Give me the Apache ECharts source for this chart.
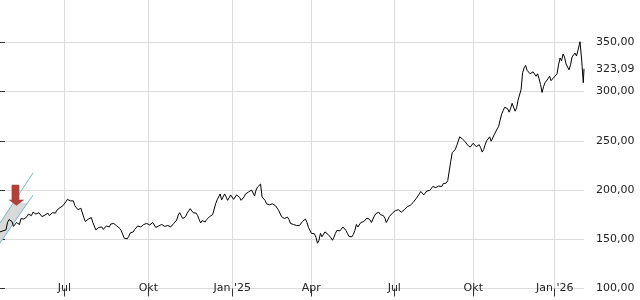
<!DOCTYPE html>
<html><head><meta charset="utf-8">
<script src="https://cdn.jsdelivr.net/npm/echarts@6/dist/echarts.min.js"></script>
<style>html,body{margin:0;padding:0;background:#fff}#c{width:640px;height:300px}</style>
</head><body><div id="c"></div>
<script>
// Closing prices, one sample per step (step index on x axis)
const price = [
157.5,158.5,159.5,170,168,164.5,166,171,170.5,173,
175,177.5,175.5,177,173,174.5,176.5,174.5,177.5,179.5,
182,184,188,191,188,184,180,181.5,172,168.5,
171,167,159.5,162,162.5,161,163,165.5,166,163.5,
161,157,149.5,153,158.5,160,163.5,162.5,165,166,
164.5,167,162,163.5,165,163,164,162.5,166,169.5,
177,171,173,178.5,180,175,174,166.5,168.5,170,
173,175,186,193,190,196,189.5,195,190.5,195,
192.5,191,196,198,200,194,203,206,191.5,186,
185,186,184,179.5,173,171,172.5,166,165,164,
164,168,170.5,162,156,155.5,146,156,154.5,157,
153,149,156,161,160,161.5,156,151.5,155,165,
164,169,170,172,167,173.5,177,175,174,167,
173,176.5,179,180,177.5,180,183,184.5,187.5,191.5,
196,197.5,196,200.5,201.5,204,201,202.5,206.5,207,
211,238,241,249.5,252,250,246,243.5,247.5,244,
246,238.5,246,252,249.5,256,262,271,280.5,284.5,
279,288,280,291.5,302,324,321.5,318,320,315.5,
313,299,309,313,311,314.5,318,334,338,328,
322,335,339,342
];
// prices half a step after each sample above
const priceMid = [
156,160.5,167,171.5,163,167,165,173,169.5,175.5,
174,178.5,174,176,171.5,176.5,174,177,176.5,181.5,
181,185.5,190.5,189,189,182.5,179,182,168,170.5,
172,165,158,164,160,163.5,162.5,167.5,164,164,
158.5,151,150.5,156.5,157.5,162,161.5,164.5,163.5,166.5,
163.5,165.5,161,165.5,164,162,165,163,166.5,174.5,
174,170,176.5,181,177,176.5,170,169,167.5,171.5,
172.5,176,190,196,191,193,192,196.5,192,196.5,
189.5,193,196,198.5,198,200,204,193,189.5,187.5,
183.5,186.5,182.5,177.5,174,169.5,170,167.5,163,166,
165,170,167,160,154,152,149,152.5,157.5,155,
151.5,152,159,158.5,162.5,159,153,152.5,159,162.5,
167,168,171.5,170,168.5,176,177.5,173,171.5,169,
175,176,181,178.5,178,181,182,186.5,189,192.5,
198.5,195,199,199.5,203.5,202.5,204,203.5,205.5,209.5,
229,237.5,245,254,251.5,248.5,247,242.5,248.5,242,
243,241,250,254,251.5,258,264.5,277,284,282.5,
283,286.5,283.5,290,319,326.5,323,316,322,318,
307,305,311,315.5,312,316.5,327,331,335,330,
327,337,336
];
// last few moves at finer step
const priceTail = [[193.66, 350.5], [194.2, 333], [194.76, 309], [195, 323.09]];
const lastPrice = 323.09;

// x axis tick positions (step index) and labels
const xTickPos = [21.47, 49.52, 77.56, 103.94, 131.65, 158.03, 185.21];
const xTickLabels = ['Jul', 'Okt', "Jan '25", 'Apr', 'Jul', 'Okt', "Jan '26"];

// trend channel and signal annotation
const channelUpper = [[0, 166.5], [11.02, 217.3]];
const channelLower = [[0, 146.2], [11.02, 194.9]];
const channelFill = [[0, 166.5], [4.41, 186.8], [9.18, 186.8], [0, 146.2]];
const signalPoint = [5.5, 194.7];

const data = [];
price.forEach((v, i) => {
  data.push([i, v]);
  if (i < priceMid.length) data.push([i + 0.5, priceMid[i]]);
});
priceTail.forEach(p => data.push(p));

const fmt = v => Number(v).toFixed(2).replace('.', ',');
const font = 'DejaVu Sans';

const chart = echarts.init(document.getElementById('c'), null, {renderer: 'canvas'});
chart.setOption({
  animation: false,
  grid: {left: 0, right: 56, top: -7, bottom: 11.5, containLabel: false, outerBoundsMode: 'none'},
  xAxis: {
    type: 'value', min: 0, max: 195,
    axisLine: {show: false},
    axisTick: {show: true, customValues: xTickPos, length: 8, lineStyle: {color: '#333'}},
    axisLabel: {
      customValues: xTickPos, margin: -6, fontFamily: font, fontSize: 11, color: '#222',
      formatter: v => {
        let best = 0;
        xTickPos.forEach((p, k) => { if (Math.abs(p - v) < Math.abs(xTickPos[best] - v)) best = k; });
        return xTickLabels[best];
      }
    },
    splitLine: {show: true, lineStyle: {color: '#dcdcdc', width: 1}}
  },
  yAxis: {
    type: 'value', position: 'right', min: 100, max: 400, interval: 50,
    axisLine: {show: false},
    axisTick: {show: true, length: 5, lineStyle: {color: '#333'}},
    axisLabel: {margin: 12, fontFamily: font, fontSize: 11, color: '#222', formatter: fmt},
    splitLine: {show: true, lineStyle: {color: '#dcdcdc', width: 1}}
  },
  series: [
    {
      type: 'custom', z: 1, silent: true,
      data: [channelFill[0]],
      renderItem: (params, api) => ({
        type: 'polygon',
        shape: {points: channelFill.map(p => api.coord(p))},
        style: {fill: '#d9d9d9'}
      })
    },
    {type: 'line', z: 2, data: channelUpper, showSymbol: false, silent: true,
     lineStyle: {color: '#72b9c9', width: 1}},
    {type: 'line', z: 2, data: channelLower, showSymbol: false, silent: true,
     lineStyle: {color: '#72b9c9', width: 1}},
    {
      type: 'line', z: 3, data: data, showSymbol: false, silent: true,
      lineStyle: {color: '#000', width: 1},
      markLine: {
        silent: true, symbol: 'none',
        lineStyle: {color: 'rgba(0,0,0,0)', width: 0},
        label: {position: 'end', distance: 12, formatter: fmt(lastPrice), fontFamily: font, fontSize: 11, color: '#222'},
        data: [{yAxis: lastPrice}]
      },
      markPoint: {
        silent: true,
        symbol: 'path://M3,0 L10.7,0 L10.7,15 L15.7,15 L7.85,21 L0,15 L3,15 Z',
        symbolSize: [15.7, 21], symbolKeepAspect: false,
        itemStyle: {color: '#b0413a'},
        label: {show: false},
        data: [{coord: signalPoint}]
      }
    }
  ]
});
</script>
</body></html>
